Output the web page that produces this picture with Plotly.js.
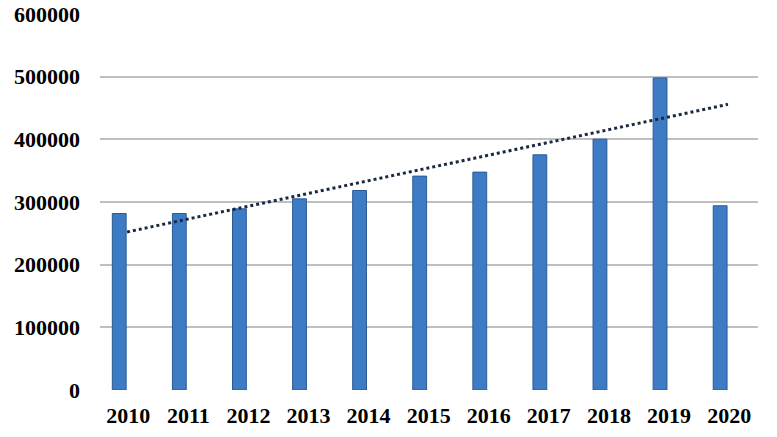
<!DOCTYPE html>
<html>
<head>
<meta charset="utf-8">
<script src="https://cdn.plot.ly/plotly-3.0.1.min.js"></script>
<style>html,body{margin:0;padding:0;background:#fff;}#chart{width:777px;height:437px;}</style>
</head>
<body>
<div id="chart"></div>
<script>
const years = ['2010','2011','2012','2013','2014','2015','2016','2017','2018','2019','2020'];
const values = [281600, 281600, 289100, 305000, 318400, 341300, 347700, 375300, 400300, 498000, 294000];
const yTicks = [0, 100000, 200000, 300000, 400000, 500000, 600000];

// Linear trendline fitted on 2010-2019, extended one period forward (as in the reference)
const fitN = 10;
let sx = 0, sy = 0;
for (let i = 0; i < fitN; i++) { sx += i; sy += values[i]; }
const mx = sx / fitN, my = sy / fitN;
let sxy = 0, sxx = 0;
for (let i = 0; i < fitN; i++) { sxy += (i - mx) * (values[i] - my); sxx += (i - mx) * (i - mx); }
const slope = sxy / sxx, icpt = my - slope * mx;
const trend = years.map((_, i) => icpt + slope * i);

const fam = '"Liberation Serif", "Times New Roman", serif';
const xRange = [-0.32, 10.63];
const shift = 0.13;

const data = [
  {
    type: 'bar', x: years, y: values, width: 0.23,
    marker: {color: '#3d7cc4', line: {color: '#2a5a94', width: 1}},
    hoverinfo: 'x+y'
  },
  {
    type: 'scatter', mode: 'lines', x: years, y: trend, xaxis: 'x2',
    line: {color: '#1a2a44', width: 3, dash: 'dot'},
    hoverinfo: 'skip'
  }
];

const layout = {
  width: 777, height: 437,
  margin: {l: 100, r: 19, t: 14, b: 47},
  paper_bgcolor: '#fff', plot_bgcolor: '#fff',
  showlegend: false,
  font: {family: fam, size: 22, color: '#000'},
  xaxis: {
    type: 'category', range: xRange,
    showgrid: false, showline: false, ticks: '',
    ticklabelstandoff: 10, ticklabelshift: 9,
    tickfont: {family: fam, size: 22, color: '#000', weight: 'bold'}
  },
  xaxis2: {
    type: 'category', overlaying: 'x', range: [xRange[0] - shift, xRange[1] - shift],
    visible: false
  },
  yaxis: {
    range: [0, 600000], tickvals: yTicks, ticktext: yTicks.map(String),
    showgrid: true, gridcolor: '#bfbfbf', gridwidth: 2,
    zeroline: false, showline: false, ticks: '',
    ticklabelstandoff: 19,
    tickfont: {family: fam, size: 22, color: '#000', weight: 'bold'}
  }
};

Plotly.newPlot('chart', data, layout, {displayModeBar: false, staticPlot: true});
</script>
</body>
</html>
